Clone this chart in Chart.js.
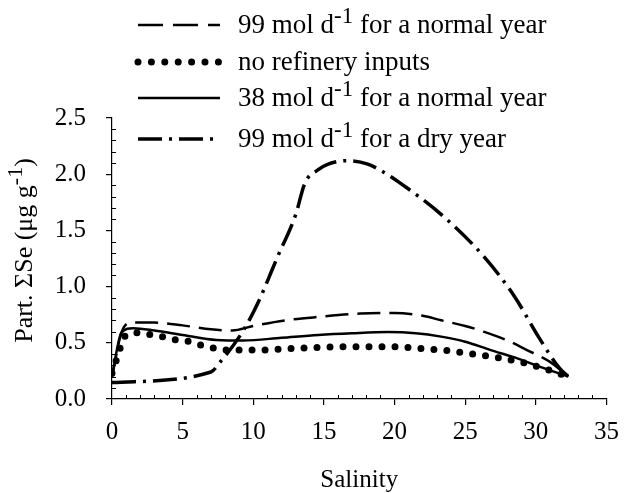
<!DOCTYPE html>
<html>
<head>
<meta charset="utf-8">
<script src="https://cdn.jsdelivr.net/npm/chart.js@4"></script>
<style>
  body { margin: 0; background: #fff; }
</style>
</head>
<body>
<canvas id="chart" width="631" height="493"></canvas>
<script>
// tick labels
const xTickValues = [0, 5, 10, 15, 20, 25, 30, 35];
const yTickValues = [0.0, 0.5, 1.0, 1.5, 2.0, 2.5];

// 99 mol d-1, normal year (dashed)
const normal99Sal = [0, 0.67, 1.3, 3, 5, 7, 8.5, 10, 12.3, 14.6, 17.6, 20, 22, 23.3, 25, 26.3, 28, 29.3, 31, 32.3];
const normal99Se  = [0.2, 0.59, 0.68, 0.68, 0.655, 0.62, 0.61, 0.65, 0.70, 0.73, 0.76, 0.765, 0.74, 0.70, 0.65, 0.60, 0.52, 0.44, 0.33, 0.2];

// no refinery inputs (dotted)
const noRefSal = [0, 0.32, 0.6, 1.0, 1.9, 2.8, 3.7, 4.6, 5.5, 6.4, 7.3, 8.2, 10, 13, 16.4, 19.9, 21.7, 23.4, 25.3, 27, 28.9, 30.6, 31.6, 32.2];
const noRefSe  = [0.23, 0.35, 0.46, 0.57, 0.59, 0.57, 0.55, 0.525, 0.51, 0.475, 0.45, 0.435, 0.435, 0.45, 0.465, 0.465, 0.45, 0.435, 0.405, 0.375, 0.33, 0.27, 0.23, 0.2];

// 38 mol d-1, normal year (solid)
const normal38Sal = [0, 0.67, 1.5, 3, 5, 7.4, 9.3, 12, 14.6, 17, 19.5, 21.5, 23.3, 25, 26.8, 28.5, 30.2, 32.3];
const normal38Se  = [0.2, 0.59, 0.63, 0.61, 0.57, 0.525, 0.52, 0.545, 0.57, 0.585, 0.595, 0.585, 0.555, 0.51, 0.435, 0.37, 0.29, 0.2];

// 99 mol d-1, dry year (dash-dot)
const dry99Sal = [0, 7.0, 7.6, 9.3, 10.4, 11.7, 13.0, 13.65, 14.6, 15.3, 16.65, 18.1, 19.2, 20.3, 23.5, 26.3, 28.5, 30.2, 31.7, 32.3];
const dry99Se  = [0.146, 0.24, 0.32, 0.61, 0.875, 1.26, 1.64, 1.92, 2.04, 2.09, 2.12, 2.09, 2.02, 1.93, 1.62, 1.27, 0.91, 0.55, 0.27, 0.2];

// legend text: [before, superscript, after]
const seriesLabels = [
  ["99 mol d", "-1", " for a normal year"],
  ["no refinery inputs", "", ""],
  ["38 mol d", "-1", " for a normal year"],
  ["99 mol d", "-1", " for a dry year"]
];

const FONT = "Liberation Serif";
const legendRows = [25, 62, 98, 139];

function pts(xs, ys) {
  return xs.map((x, i) => ({ x: x, y: ys[i] }));
}

// draw text with a raised "-1"
function drawRich(ctx, parts, x, y, size) {
  ctx.font = size + "px '" + FONT + "'";
  ctx.fillText(parts[0], x, y);
  x += ctx.measureText(parts[0]).width;
  if (parts[1]) {
    ctx.font = Math.round(size * 0.85) + "px '" + FONT + "'";
    ctx.fillText(parts[1], x, y - size * 0.33);
    x += ctx.measureText(parts[1]).width;
    ctx.font = size + "px '" + FONT + "'";
  }
  if (parts[2]) ctx.fillText(parts[2], x, y);
}

function richWidth(ctx, parts, size) {
  ctx.font = size + "px '" + FONT + "'";
  let w = ctx.measureText(parts[0]).width + ctx.measureText(parts[2]).width;
  ctx.font = Math.round(size * 0.85) + "px '" + FONT + "'";
  w += ctx.measureText(parts[1]).width;
  return w;
}

const extras = {
  id: "extras",
  afterDraw(chart) {
    const ctx = chart.ctx;
    const xs = chart.scales.x, ys = chart.scales.y;
    ctx.save();
    ctx.strokeStyle = "#000";
    ctx.lineWidth = 1;
    // minor ticks, drawn inside
    ctx.beginPath();
    for (let v = 0; v <= 35; v++) {
      if (v % 5 === 0) continue;
      const px = Math.round(xs.getPixelForValue(v)) + 0.5;
      ctx.moveTo(px, xs.top);
      ctx.lineTo(px, xs.top - 4);
    }
    for (let k = 0; k <= 25; k++) {
      if (k % 5 === 0) continue;
      const py = Math.round(ys.getPixelForValue(k / 10)) + 0.5;
      ctx.moveTo(ys.right, py);
      ctx.lineTo(ys.right + 4, py);
    }
    ctx.stroke();

    // legend
    chart.data.datasets.forEach((ds, i) => {
      const y = legendRows[i];
      ctx.save();
      ctx.strokeStyle = "#000";
      ctx.lineWidth = ds.borderWidth;
      ctx.lineCap = ds.borderCapStyle || "butt";
      ctx.setLineDash(ds.legendDash || ds.borderDash || []);
      ctx.beginPath();
      ctx.moveTo(138, y);
      ctx.lineTo(220, y);
      ctx.stroke();
      ctx.restore();
      ctx.fillStyle = "#000";
      ctx.textBaseline = "middle";
      ctx.textAlign = "left";
      drawRich(ctx, seriesLabels[i], 238, y + 1, 27);
    });

    // y axis title
    const yTitle = ["Part. \u03A3Se (\u03BCg g", "-1", ")"];
    ctx.translate(25, (ys.top + ys.bottom) / 2 - 8);
    ctx.rotate(-Math.PI / 2);
    ctx.fillStyle = "#000";
    ctx.textBaseline = "middle";
    const w = richWidth(ctx, yTitle, 26);
    drawRich(ctx, yTitle, -w / 2, 0, 26);
    ctx.restore();
  }
};

const tickFont = { family: FONT, size: 25 };

new Chart(document.getElementById("chart"), {
  type: "line",
  data: {
    datasets: [
      {
        label: seriesLabels[0].join(""),
        data: pts(normal99Sal, normal99Se),
        borderColor: "#000",
        borderWidth: 2.5,
        borderDash: [23, 9],
        legendDash: [25, 10],
      },
      {
        label: seriesLabels[1].join(""),
        data: pts(noRefSal, noRefSe),
        borderColor: "#000",
        borderWidth: 7,
        borderDash: [0, 13],
        borderCapStyle: "round",
        legendDash: [0, 13.4],
      },
      {
        label: seriesLabels[2].join(""),
        data: pts(normal38Sal, normal38Se),
        borderColor: "#000",
        borderWidth: 2.5,
      },
      {
        label: seriesLabels[3].join(""),
        data: pts(dry99Sal, dry99Se),
        borderColor: "#000",
        borderWidth: 3.5,
        borderDash: [24, 7, 3, 7],
      },
    ],
  },
  options: {
    responsive: false,
    animation: false,
    events: [],
    layout: { padding: { top: 118, right: 13, left: 0, bottom: 0 } },
    elements: {
      point: { radius: 0 },
      line: { cubicInterpolationMode: "monotone", fill: false },
    },
    plugins: {
      legend: { display: false },
      tooltip: { enabled: false },
    },
    scales: {
      x: {
        type: "linear",
        min: 0,
        max: 35,
        afterBuildTicks: (s) => { s.ticks = xTickValues.map((v) => ({ value: v })); },
        afterFit: (s) => { s.height = 94; },
        border: { color: "#000", width: 1.2 },
        grid: { drawOnChartArea: false, tickLength: 6, color: "#000", lineWidth: 1.2 },
        ticks: { font: tickFont, color: "#000", padding: 12, maxRotation: 0 },
        title: {
          display: true,
          text: "Salinity",
          font: { family: FONT, size: 25, lineHeight: 1 },
          color: "#000",
          padding: 0,
        },
      },
      y: {
        min: 0,
        max: 2.5,
        afterBuildTicks: (s) => { s.ticks = yTickValues.map((v) => ({ value: v })); },
        afterFit: (s) => { s.width = 112; },
        border: { color: "#000", width: 1.2 },
        grid: { drawOnChartArea: false, tickLength: 6, color: "#000", lineWidth: 1.2 },
        ticks: {
          font: tickFont,
          color: "#000",
          padding: 20,
          callback: (v) => v.toFixed(1),
        },
      },
    },
  },
  plugins: [extras],
});
</script>
</body>
</html>
